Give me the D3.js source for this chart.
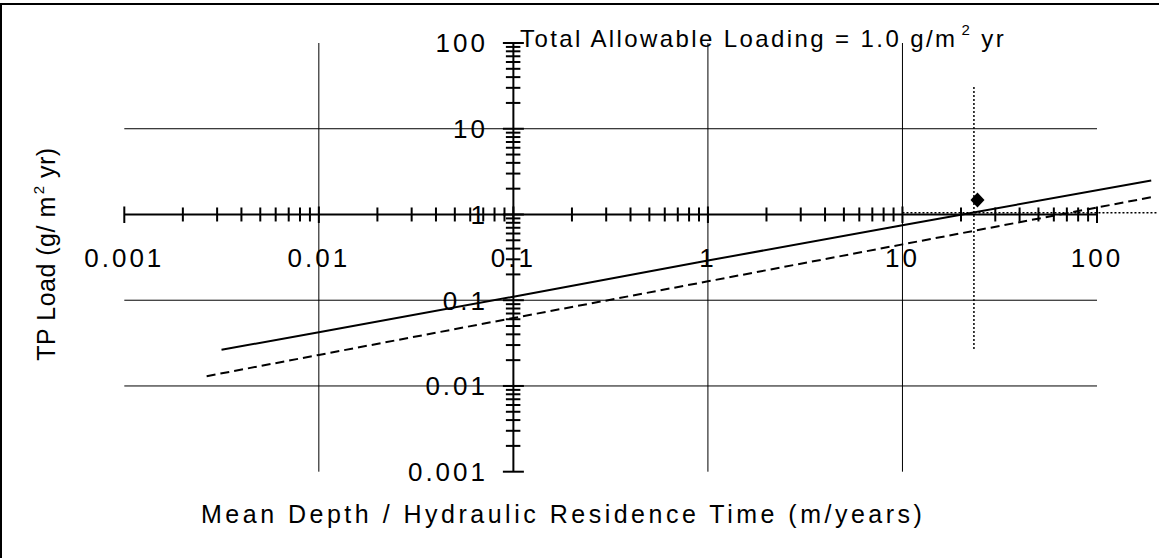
<!DOCTYPE html>
<html>
<head>
<meta charset="utf-8">
<script src="https://cdn.jsdelivr.net/npm/d3@7"></script>
<style>
  body { margin: 0; background: #fff; }
  text { font-family: "Liberation Sans", Arial, sans-serif; fill: #000; }
</style>
</head>
<body>
<script>
// tick values and labels
const xTicks = [0.001, 0.01, 0.1, 1, 10, 100];
const xTickLabels = ["0.001", "0.01", "0.1", "1", "10", "100"];
const yTicks = [0.001, 0.01, 0.1, 1, 10, 100];
const yTickLabels = ["0.001", "0.01", "0.1", "1", "10", "100"];
const xGrid = [0.01, 1, 10];
const yGrid = [10, 0.1, 0.01];

// solid line
const solidX = [0.00316, 0.01, 0.1, 1, 10, 190];
const solidY = [0.0264, 0.0424, 0.11, 0.29, 0.75, 2.49];

// dashed line
const dashedX = [0.00265, 0.01, 0.1, 1, 10, 190];
const dashedY = [0.013, 0.023, 0.062, 0.166, 0.448, 1.59];

// lake point and its dotted guides
const pointX = [24.3];
const pointY = [1.48];
const vGuideX = [23.3, 23.3];
const vGuideY = [0.027, 31];
const hGuideX = [10, 203];
const hGuideY = [1.05, 1.05];

const width = 1159;
const height = 558;

const svg = d3.select("body")
  .append("svg")
  .attr("width", width)
  .attr("height", height);

const x = d3.scaleLog().domain([0.001, 100]).range([124.3, 1097]);
const y = d3.scaleLog().domain([0.001, 100]).range([471.7, 43]);

// frame (only top and left edges show)
svg.append("path")
  .attr("d", "M1,558 L1,4 L1159,4")
  .attr("fill", "none")
  .attr("stroke", "#000")
  .attr("stroke-width", 2);

// grid
svg.selectAll(".vgrid")
  .data(xGrid)
  .enter()
  .append("line")
  .attr("x1", d => x(d)).attr("x2", d => x(d))
  .attr("y1", y(100)).attr("y2", y(0.001))
  .attr("stroke", "#000").attr("stroke-width", 1);

svg.selectAll(".hgrid")
  .data(yGrid)
  .enter()
  .append("line")
  .attr("x1", x(0.001)).attr("x2", x(100))
  .attr("y1", d => y(d)).attr("y2", d => y(d))
  .attr("stroke", "#000").attr("stroke-width", 1);

// minor tick values 1..9 per decade
const minor = [];
for (let e = -3; e < 2; e++) {
  for (let k = 2; k <= 9; k++) minor.push(k * Math.pow(10, e));
}

// x axis at y = 1
const xAxisY = y(1);
const gx = svg.append("g");
gx.append("line")
  .attr("x1", x(0.001)).attr("x2", x(100))
  .attr("y1", xAxisY).attr("y2", xAxisY)
  .attr("stroke", "#000").attr("stroke-width", 2);
gx.selectAll(".mj")
  .data(xTicks)
  .enter()
  .append("line")
  .attr("x1", d => x(d)).attr("x2", d => x(d))
  .attr("y1", xAxisY - 8).attr("y2", xAxisY + 8.5)
  .attr("stroke", "#000").attr("stroke-width", 2);
gx.selectAll(".mn")
  .data(minor)
  .enter()
  .append("line")
  .attr("x1", d => x(d)).attr("x2", d => x(d))
  .attr("y1", xAxisY - 7).attr("y2", xAxisY + 7)
  .attr("stroke", "#000").attr("stroke-width", 2);
gx.selectAll("text")
  .data(xTicks)
  .enter()
  .append("text")
  .attr("x", d => x(d))
  .attr("y", 267)
  .attr("text-anchor", "middle")
  .style("font-size", "26px")
  .style("letter-spacing", "3px")
  .text((d, i) => xTickLabels[i]);

// y axis at x = 0.1
const yAxisX = x(0.1);
const gy = svg.append("g");
gy.append("line")
  .attr("x1", yAxisX).attr("x2", yAxisX)
  .attr("y1", y(0.001)).attr("y2", y(100))
  .attr("stroke", "#000").attr("stroke-width", 2);
gy.selectAll(".mj")
  .data(yTicks)
  .enter()
  .append("line")
  .attr("x1", yAxisX - 10.5).attr("x2", yAxisX + 10.5)
  .attr("y1", d => y(d)).attr("y2", d => y(d))
  .attr("stroke", "#000").attr("stroke-width", 2);
gy.selectAll(".mn")
  .data(minor)
  .enter()
  .append("line")
  .attr("x1", yAxisX - 7.5).attr("x2", yAxisX + 7)
  .attr("y1", d => y(d)).attr("y2", d => y(d))
  .attr("stroke", "#000").attr("stroke-width", 2);
gy.selectAll("text")
  .data(yTicks)
  .enter()
  .append("text")
  .attr("x", 488)
  .attr("y", d => y(d))
  .attr("dy", "0.36em")
  .attr("text-anchor", "end")
  .style("font-size", "26px")
  .style("letter-spacing", "3px")
  .text((d, i) => yTickLabels[i]);

// lines
const line = d3.line()
  .x(d => x(d[0]))
  .y(d => y(d[1]));

svg.append("path")
  .datum(d3.zip(solidX, solidY))
  .attr("d", line)
  .attr("fill", "none")
  .attr("stroke", "#000")
  .attr("stroke-width", 2);

svg.append("path")
  .datum(d3.zip(dashedX, dashedY))
  .attr("d", line)
  .attr("fill", "none")
  .attr("stroke", "#000")
  .attr("stroke-width", 2)
  .attr("stroke-dasharray", "9,5");

svg.append("path")
  .datum(d3.zip(vGuideX, vGuideY))
  .attr("d", line)
  .attr("fill", "none")
  .attr("stroke", "#000")
  .attr("stroke-width", 1.5)
  .attr("stroke-dasharray", "2,2");

svg.append("path")
  .datum(d3.zip(hGuideX, hGuideY))
  .attr("d", line)
  .attr("fill", "none")
  .attr("stroke", "#000")
  .attr("stroke-width", 1.5)
  .attr("stroke-dasharray", "2,2");

// diamond marker
svg.selectAll(".pt")
  .data(d3.zip(pointX, pointY))
  .enter()
  .append("path")
  .attr("transform", d => `translate(${x(d[0])},${y(d[1])})`)
  .attr("d", "M0,-7.5 L7,0 L0,7.5 L-7,0 Z")
  .attr("fill", "#000");

// texts
const title = svg.append("text")
  .attr("x", 520)
  .attr("y", 47)
  .style("font-size", "24px")
  .style("letter-spacing", "2.4px");
title.append("tspan").text("Total Allowable Loading = 1.0 g/m");
title.append("tspan").attr("dx", 4).attr("dy", -12).style("font-size", "15px").text("2");
title.append("tspan").attr("dy", 12).text(" yr");

svg.append("text")
  .attr("x", 201)
  .attr("y", 523)
  .style("font-size", "25px")
  .style("letter-spacing", "3.5px")
  .text("Mean Depth / Hydraulic Residence Time (m/years)");

const ylab = svg.append("text")
  .attr("transform", "translate(55,254) rotate(-90)")
  .attr("text-anchor", "middle")
  .style("font-size", "25px")
  .style("letter-spacing", "0.5px");
ylab.append("tspan").text("TP Load (g/ m");
ylab.append("tspan").attr("dx", 2).attr("dy", -11).style("font-size", "15px").text("2");
ylab.append("tspan").attr("dy", 11).text(" yr)");
</script>
</body>
</html>
